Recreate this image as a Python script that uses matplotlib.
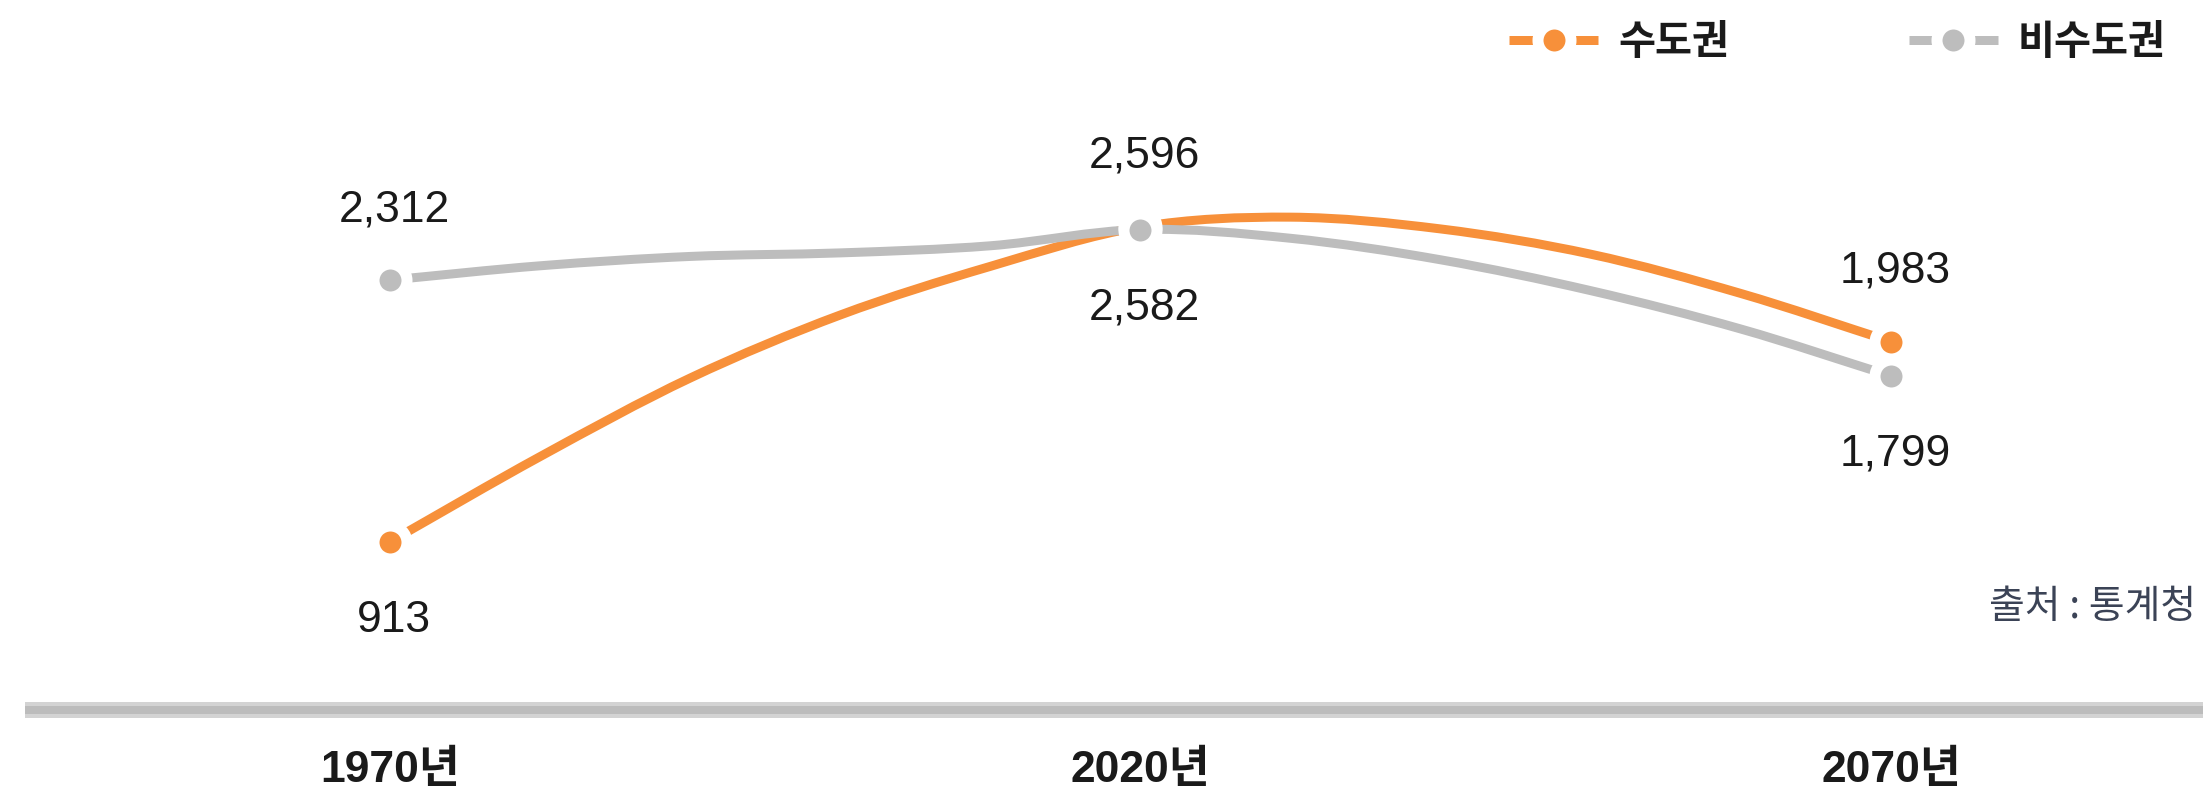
import matplotlib
matplotlib.use("Agg")
import matplotlib.pyplot as plt
from matplotlib import font_manager
from matplotlib.lines import Line2D
from matplotlib.path import Path
from matplotlib.patches import PathPatch

# data (population, 10k persons)
years = [1970, 1980, 1990, 2000, 2010, 2020, 2030, 2040, 2050, 2060, 2070]
capital = [913, 1368, 1788, 2125, 2385, 2596, 2648, 2585, 2450, 2240, 1983]
noncapital = [2312, 2388, 2438, 2457, 2495, 2582, 2535, 2420, 2255, 2050, 1799]
label_years = [1970, 2020, 2070]
tick_labels = ["1970년", "2020년", "2070년"]
series_names = ["수도권", "비수도권"]
source_text = "출처 : 통계청"

ORANGE = "#F7903A"
GRAY = "#BDBDBD"

installed = {f.name for f in font_manager.fontManager.ttflist}
num_font = "Liberation Sans Narrow" if "Liberation Sans Narrow" in installed else "Liberation Sans"
num_size = 36 if num_font == "Liberation Sans Narrow" else 32
KR = "Noto Sans CJK KR"

PX = 72 / 100  # points per pixel at dpi 100

fig = plt.figure(figsize=(22.03, 7.97), dpi=100)
ax = fig.add_axes([25 / 2203, 87 / 797, 1 - 25 / 2203, 710 / 797])
ax.set_xlim(1945.68, 2090.79)
ax.set_ylim(13.3, 3808.9)
for side in ["top", "left", "right", "bottom"]:
    ax.spines[side].set_visible(False)
# baseline band: light outer, darker core
ax.axhline(13.3, color="#d3d3d3", lw=16 * PX, solid_capstyle="butt", clip_on=False, zorder=2)
ax.axhline(13.3, color="#bcbcbc", lw=8 * PX, solid_capstyle="butt", clip_on=False, zorder=3)
ax.set_yticks([])


def smooth_path(xs, ys):
    # catmull-rom through the points, as cubic bezier segments
    pts = list(zip(xs, ys))
    n = len(pts)
    tang = []
    for i in range(n):
        a = pts[max(i - 1, 0)]
        b = pts[min(i + 1, n - 1)]
        k = 0.5 if 0 < i < n - 1 else 1.0
        tang.append(((b[0] - a[0]) * k, (b[1] - a[1]) * k))
    verts = [pts[0]]
    codes = [Path.MOVETO]
    for i in range(n - 1):
        p0, p1 = pts[i], pts[i + 1]
        m0, m1 = tang[i], tang[i + 1]
        verts += [(p0[0] + m0[0] / 3, p0[1] + m0[1] / 3),
                  (p1[0] - m1[0] / 3, p1[1] - m1[1] / 3),
                  p1]
        codes += [Path.CURVE4] * 3
    return Path(verts, codes)


lw = 9 * PX
ms = 33 * PX
mew = 11 * PX

series = [(capital, ORANGE, 4), (noncapital, GRAY, 5)]
for vals, col, z in series:
    ax.add_patch(PathPatch(smooth_path(years, vals), facecolor="none", edgecolor=col,
                           lw=lw, capstyle="butt", zorder=z))

for vals, col, z in series:
    pv = [vals[years.index(y)] for y in label_years]
    ax.plot(label_years, pv, linestyle="none", marker="o", ms=ms, mfc=col,
            mec="white", mew=mew, zorder=z + 2)

# value labels: which go above / below
label_pos = {
    "capital": ["below", "above", "above"],
    "noncapital": ["above", "below", "below"],
}
for key, vals in [("capital", capital), ("noncapital", noncapital)]:
    for y, pos in zip(label_years, label_pos[key]):
        v = vals[years.index(y)]
        dy = 59 * PX if pos == "above" else -90 * PX
        ax.annotate(f"{v:,}", (y, v), xytext=(4 * PX, dy), textcoords="offset points",
                    ha="center", va="baseline", fontsize=num_size, family=num_font,
                    color="#1a1a1a")

ax.set_xticks(label_years, tick_labels)
ax.tick_params(axis="x", length=0, pad=28.7)
for lab in ax.get_xticklabels():
    lab.set_fontfamily([num_font, KR])
    lab.set_fontsize(num_size)
    lab.set_fontweight("bold")
    lab.set_color("#1a1a1a")

handles = [Line2D([], [], color=c, lw=lw, solid_capstyle="butt", marker="o", ms=ms,
                  mfc=c, mec="white", mew=mew) for c in [ORANGE, GRAY]]
leg = fig.legend(handles, series_names, loc="center right", bbox_to_anchor=(2166 / 2203, 1 - 43 / 797),
                 ncol=2, frameon=False, handlelength=2.21, handletextpad=0.5, columnspacing=4.45,
                 borderpad=0, borderaxespad=0,
                 prop=font_manager.FontProperties(family=KR, weight="bold", size=29))
for t in leg.get_texts():
    t.set_color("#1a1a1a")

fig.text(2196 / 2203, 1 - 607 / 797, source_text, ha="right", va="center",
         fontsize=28, family=KR, color="#3b4356")

fig.savefig("out.png", dpi=100)
